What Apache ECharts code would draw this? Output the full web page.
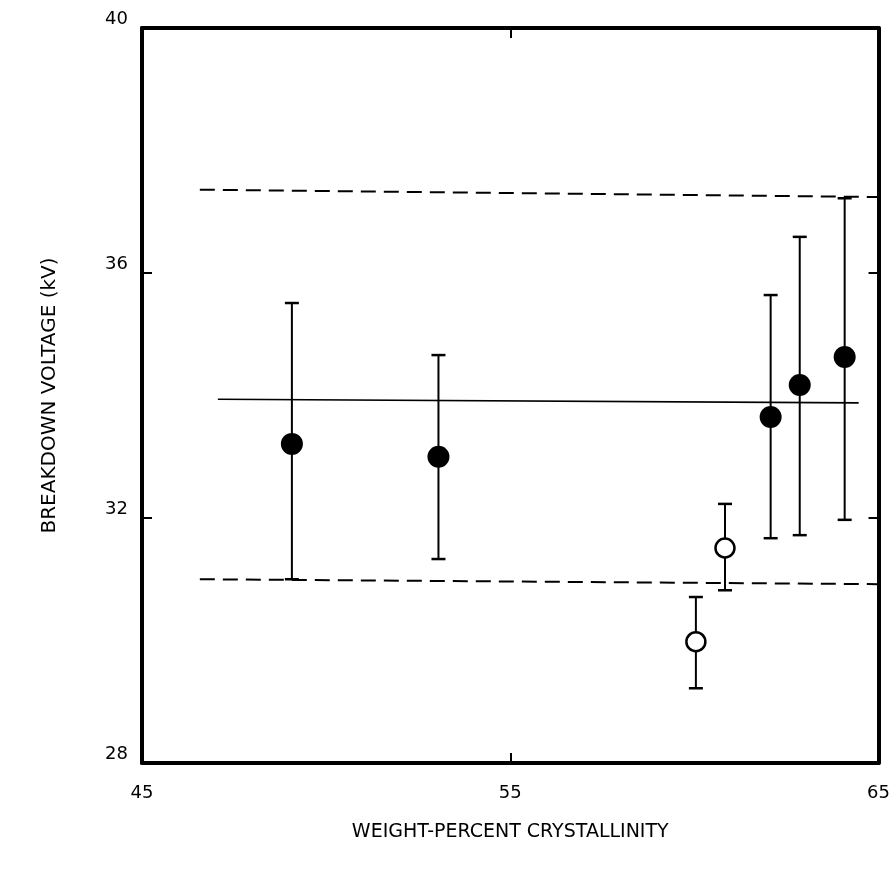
<!DOCTYPE html>
<html>
<head>
<meta charset="utf-8">
<script src="https://cdn.jsdelivr.net/npm/echarts@6/dist/echarts.min.js"></script>
<style>html,body{margin:0;padding:0;background:#fff}#c{width:893px;height:873px}</style>
</head>
<body>
<div id="c"></div>
<script>
// Filled circles: crystallinity, mean voltage, low, high
const filledX = [49.07, 53.05, 62.07, 62.86, 64.08];
const filledY = [33.21, 33.00, 33.65, 34.17, 34.63];
const filledLow = [31.00, 31.33, 31.67, 31.72, 31.97];
const filledHigh = [35.51, 34.66, 35.64, 36.59, 37.22];
// Open circles
const openX = [60.04, 60.83];
const openY = [29.98, 31.51];
const openLow = [29.22, 30.82];
const openHigh = [30.71, 32.23];
// Reference lines (endpoints)
const meanLineX = [47.06, 64.46];
const meanLineY = [33.94, 33.88];
const upperLineX = [46.57, 65.0];
const upperLineY = [37.36, 37.24];
const lowerLineX = [46.57, 65.0];
const lowerLineY = [31.00, 30.92];
// Axis ticks
const xTicks = [45, 55, 65];
const yTicks = [28, 32, 36, 40];

const FONT = 'DejaVu Sans';
const zip = (a, b) => a.map((v, i) => [v, b[i]]);

const errData = filledX.map((x, i) => [x, filledLow[i], filledHigh[i]])
  .concat(openX.map((x, i) => [x, openLow[i], openHigh[i]]));

function renderErr(params, api) {
  const x = api.value(0);
  const lo = api.coord([x, api.value(1)]);
  const hi = api.coord([x, api.value(2)]);
  const cw = 7;
  const st = { stroke: '#000', lineWidth: 2 };
  return {
    type: 'group',
    children: [
      { type: 'line', shape: { x1: lo[0], y1: lo[1], x2: hi[0], y2: hi[1] }, style: st },
      { type: 'line', shape: { x1: lo[0] - cw, y1: lo[1], x2: lo[0] + cw, y2: lo[1] }, style: { stroke: '#000', lineWidth: 2.5 } },
      { type: 'line', shape: { x1: hi[0] - cw, y1: hi[1], x2: hi[0] + cw, y2: hi[1] }, style: { stroke: '#000', lineWidth: 2.5 } }
    ]
  };
}

const axisCommon = {
  axisLine: { show: true, onZero: false, lineStyle: { color: '#000', width: 4 } },
  axisTick: { show: true, inside: true, length: 10, lineStyle: { color: '#000', width: 2 } },
  splitLine: { show: false }
};

const chart = echarts.init(document.getElementById('c'));
chart.setOption({
  animation: false,
  backgroundColor: '#fff',
  grid: { left: 142, right: 13, top: 28, bottom: 110, containLabel: false },
  xAxis: [
    Object.assign({}, axisCommon, {
      type: 'value', min: xTicks[0], max: xTicks[xTicks.length - 1], interval: 10, position: 'bottom',
      axisLabel: { color: '#000', fontFamily: FONT, fontSize: 18, margin: 21 },
      name: 'WEIGHT-PERCENT CRYSTALLINITY', nameLocation: 'middle', nameGap: 60,
      nameTextStyle: { color: '#000', fontFamily: FONT, fontSize: 19 }
    }),
    Object.assign({}, axisCommon, {
      type: 'value', min: xTicks[0], max: xTicks[xTicks.length - 1], interval: 10, position: 'top',
      axisLabel: { show: false }
    })
  ],
  yAxis: [
    Object.assign({}, axisCommon, {
      type: 'value', min: yTicks[0], max: yTicks[yTicks.length - 1], interval: 4, position: 'left',
      axisLabel: { color: '#000', fontFamily: FONT, fontSize: 18, margin: 14, verticalAlign: 'bottom' },
      name: 'BREAKDOWN VOLTAGE (kV)', nameLocation: 'middle', nameGap: 82,
      nameTextStyle: { color: '#000', fontFamily: FONT, fontSize: 20 }
    }),
    Object.assign({}, axisCommon, {
      type: 'value', min: yTicks[0], max: yTicks[yTicks.length - 1], interval: 4, position: 'right',
      axisLabel: { show: false }
    })
  ],
  series: [
    { type: 'line', data: zip(upperLineX, upperLineY), symbol: 'none', silent: true,
      lineStyle: { color: '#000', width: 2, type: [15, 8] } },
    { type: 'line', data: zip(lowerLineX, lowerLineY), symbol: 'none', silent: true,
      lineStyle: { color: '#000', width: 2, type: [15, 8] } },
    { type: 'line', data: zip(meanLineX, meanLineY), symbol: 'none', silent: true,
      lineStyle: { color: '#000', width: 1.6 } },
    { type: 'custom', data: errData, renderItem: renderErr, encode: { x: 0, y: [1, 2] }, z: 3 },
    { type: 'scatter', data: zip(filledX, filledY), symbol: 'circle', symbolSize: 22, z: 5,
      itemStyle: { color: '#000', opacity: 1 } },
    { type: 'scatter', data: zip(openX, openY), symbol: 'circle', symbolSize: 19, z: 5,
      itemStyle: { color: '#fff', borderColor: '#000', borderWidth: 2.5, opacity: 1 } }
  ]
});
</script>
</body>
</html>
